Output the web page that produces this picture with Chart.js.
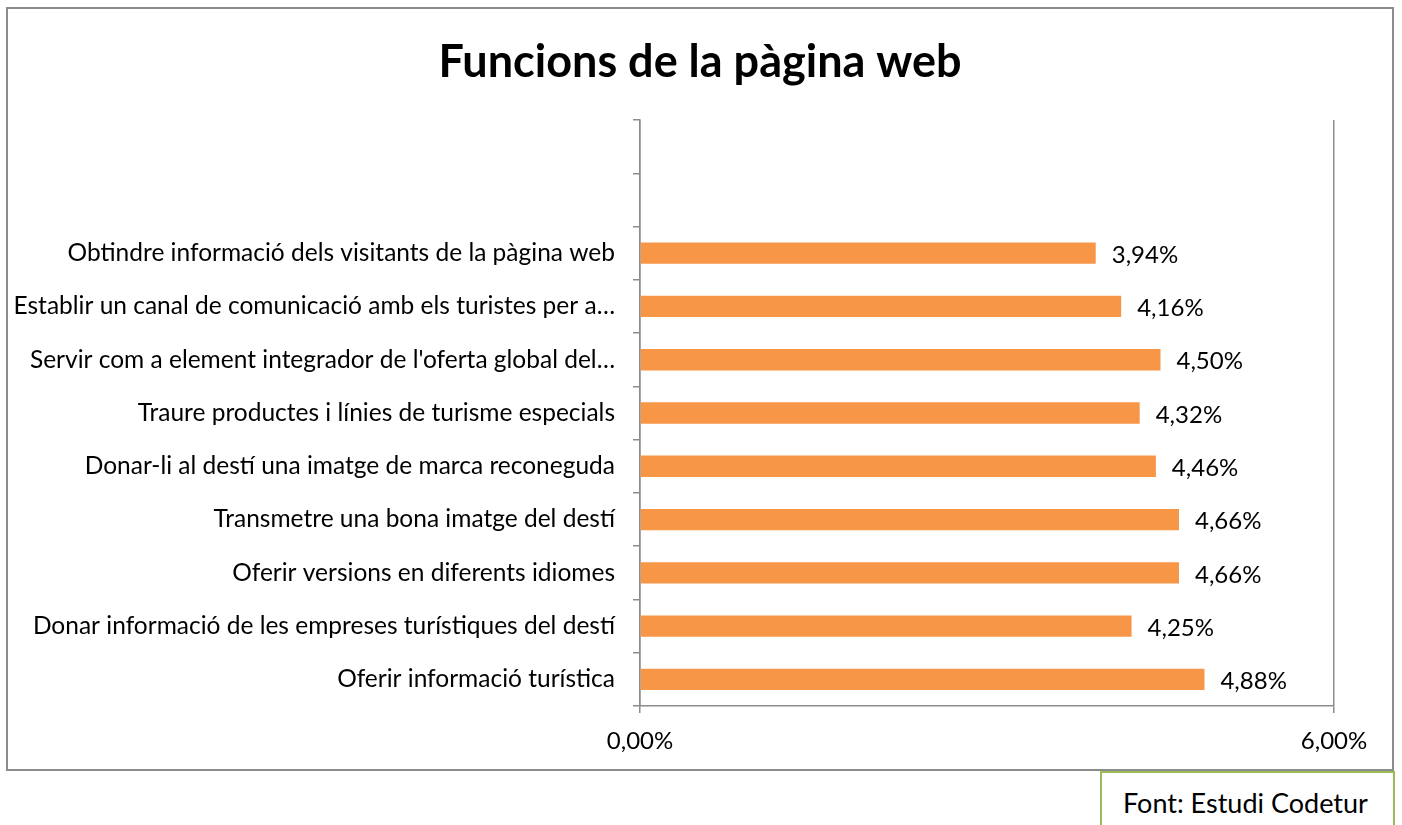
<!DOCTYPE html>
<html>
<head>
<meta charset="utf-8">
<script src="https://cdn.jsdelivr.net/npm/chart.js@4/dist/chart.umd.min.js"></script>
<style>
  body { margin: 0; background: #fff; font-family: Lato, sans-serif; }
  #frame { position: absolute; left: 6px; top: 7px; width: 1388px; height: 764px; border: 2px solid #8c8c8c; box-sizing: border-box; }
  #wrap { position: absolute; left: 8px; top: 9px; width: 1384px; height: 760px; }
  #source { position: absolute; left: 1100px; top: 771px; width: 295px; height: 60px; border: 2px solid #9bbb59; box-sizing: border-box; background: #fff;
            font-size: 27px; padding: 14px 0 0 21px; color: #000; line-height: 1.2; }
</style>
</head>
<body>
<div id="frame"></div>
<div id="wrap"><canvas id="myChart" width="1384" height="760"></canvas></div>
<div id="source">Font: Estudi Codetur</div>
<script>
var titleText = "Funcions de la pàgina web"
var labelsFunc = ["", "",
  "Obtindre informació dels visitants de la pàgina web",
  "Establir un canal de comunicació amb els turistes per a…",
  "Servir com a element integrador de l'oferta global del…",
  "Traure productes i línies de turisme especials",
  "Donar-li al destí una imatge de marca reconeguda",
  "Transmetre una bona imatge del destí",
  "Oferir versions en diferents idiomes",
  "Donar informació de les empreses turístiques del destí",
  "Oferir informació turística"]
var valuesFunc = [null, null, 3.94, 4.16, 4.50, 4.32, 4.46, 4.66, 4.66, 4.25, 4.88]
var xTicks = [0, 6]

function pct(v) {
  return v.toFixed(2).replace(".", ",") + "%"
}

// value labels right of each bar + title centred on the whole canvas
var barLabels = {
  id: "barLabels",
  afterDatasetsDraw: function (chart) {
    var ctx = chart.ctx
    var meta = chart.getDatasetMeta(0)
    ctx.save()
    ctx.font = "24px Lato"
    ctx.fillStyle = "#000"
    ctx.textBaseline = "middle"
    meta.data.forEach(function (bar, i) {
      var v = valuesFunc[i]
      if (v == null) return
      ctx.fillText(pct(v), bar.x + 16, bar.y + 2)
    })
    ctx.font = "bold 45px Lato"
    ctx.textAlign = "center"
    ctx.fillText(titleText, chart.width / 2, 53)
    ctx.restore()
  }
}

chart = new Chart("myChart", {
  type: "bar",
  data: {
    labels: labelsFunc,
    datasets: [{
      data: valuesFunc,
      backgroundColor: "#F79646",
      barPercentage: 0.4,
      categoryPercentage: 1
    }]
  },
  options: {
    indexAxis: "y",
    responsive: false,
    animation: false,
    layout: { padding: { right: 58, left: 0, top: 111, bottom: 0 } },
    plugins: {
      legend: { display: false },
      tooltip: { enabled: false },
      title: { display: false }
    },
    scales: {
      x: {
        min: 0,
        max: 6,
        afterBuildTicks: function (s) { s.ticks = xTicks.map(function (v) { return { value: v } }) },
        afterFit: function (s) { s.height = 63 },
        grid: { color: "#8c8c8c", lineWidth: 1.5, tickLength: 7 },
        border: { color: "#8c8c8c", width: 1.5 },
        ticks: {
          padding: 14,
          color: "#000",
          font: { family: "Lato", size: 24 },
          callback: function (v) { return pct(v) }
        }
      },
      y: {
        afterFit: function (s) { s.width = 632 },
        grid: { offset: true, drawOnChartArea: false, color: "#8c8c8c", lineWidth: 1.5, tickLength: 7 },
        border: { color: "#8c8c8c", width: 1.5 },
        ticks: {
          padding: 18,
          color: "#000",
          autoSkip: false,
          font: { family: "Lato", size: 24.5 }
        }
      }
    }
  },
  plugins: [barLabels]
})
</script>
</body>
</html>
